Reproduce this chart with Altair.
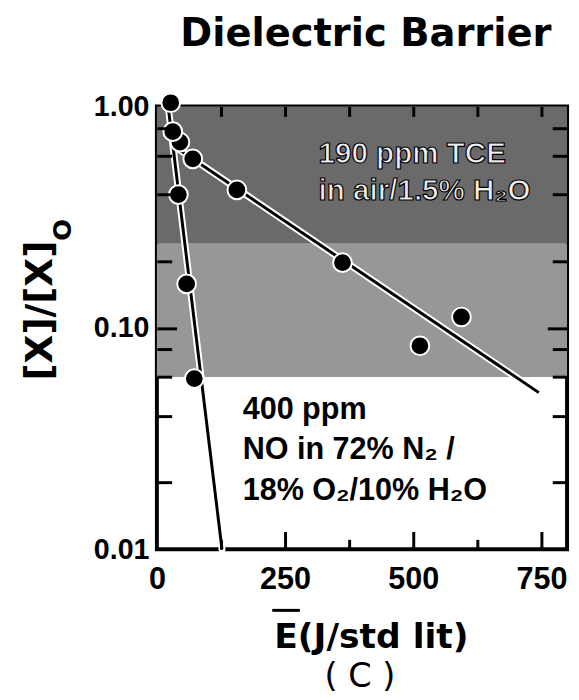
import altair as alt
import pandas as pd

# ---- data ----
tce_x = [27, 45, 70, 156, 362, 513, 594]
tce_y = [1.04, 0.69, 0.58, 0.42, 0.197, 0.083, 0.112]
no_x = [31, 42, 58, 73]
no_y = [0.77, 0.40, 0.158, 0.059]
tce_fit_x = [45, 745]
tce_fit_y = [0.635, 0.051]
no_fit_x = [22, 127]
no_fit_y = [1.0, 0.01]
band_top = [1.0, 0.24]
band_bottom = [0.24, 0.06]
band_name = ["dark", "light"]
band_colors = ["#6a6a6a", "#979797"]
x_labels = [0, 250, 500, 750]
y_labels = [0.01, 0.1, 1.0]
y_minor = [0.8, 0.6, 0.4, 0.2, 0.08, 0.06, 0.04, 0.02]
y_major_inner = [0.1]
x_major = [250, 500, 750]
x_minor = [125, 375, 625]
x_top = [125, 250, 375, 500, 625, 750]

W, H = 416, 449
XS = alt.Scale(domain=[0, 800], nice=False, zero=False)
YS = alt.Scale(type="log", domain=[0.01, 1], nice=False)
X_AXIS = alt.Axis(values=x_labels, format="d", ticks=False, domain=False, grid=False,
                  title=None, labelFont="Liberation Sans", labelFontWeight="bold",
                  labelFontSize=31, labelColor="black", labelPadding=16, labelFlush=False)
Y_AXIS = alt.Axis(values=y_labels, format=".2f", ticks=False, domain=False, grid=False,
                  title=None, labelFont="Liberation Sans", labelFontWeight="bold",
                  labelFontSize=29, labelColor="black", labelPadding=8, labelFlush=False)


def tick_axis(vals, size, orient):
    # an axis pulled inside the plot by its own tick length draws inward ticks
    return alt.Axis(values=vals, orient=orient, offset=-size, tickSize=size, tickWidth=3,
                    tickColor="black", tickOpacity=1, ticks=True, labels=False, domain=False,
                    grid=False, title=None, zindex=2)


one = pd.DataFrame({"a": [0]})
layers = []

bands = pd.DataFrame({"top": band_top, "bottom": band_bottom, "shade": band_name})
layers.append(alt.Chart(bands).mark_rect().encode(
    x=alt.value(0), x2=alt.value(W),
    y=alt.Y("top:Q", scale=YS, axis=Y_AXIS), y2="bottom:Q",
    fill=alt.Fill("shade:N", scale=alt.Scale(domain=band_name, range=band_colors), legend=None),
))

fits = pd.concat([
    pd.DataFrame({"x": tce_fit_x, "y": tce_fit_y, "s": "TCE"}),
    pd.DataFrame({"x": no_fit_x, "y": no_fit_y, "s": "NO"}),
])
layers.append(alt.Chart(fits).mark_line(color="white", strokeWidth=7, strokeCap="round").encode(
    x=alt.X("x:Q", scale=XS, axis=None), y=alt.Y("y:Q", scale=YS, axis=None), detail="s:N"))
layers.append(alt.Chart(fits).mark_line(color="black", strokeWidth=3).encode(
    x=alt.X("x:Q", scale=XS, axis=None), y=alt.Y("y:Q", scale=YS, axis=None), detail="s:N"))

pts = pd.concat([
    pd.DataFrame({"x": tce_x, "y": tce_y, "s": "TCE"}),
    pd.DataFrame({"x": no_x, "y": no_y, "s": "NO"}),
])
layers.append(alt.Chart(pts).mark_circle(size=360, color="black", opacity=1,
                                         stroke="white", strokeWidth=2).encode(
    x=alt.X("x:Q", scale=XS, axis=X_AXIS), y=alt.Y("y:Q", scale=YS, axis=None)))

# invisible carrier layers whose axes draw the inward ticks
def y_ticks(vals, size, orient):
    d = pd.DataFrame({"tv": vals})
    layers.append(alt.Chart(d).mark_point(opacity=0).encode(
        y=alt.Y("tv:Q", scale=YS, axis=tick_axis(vals, size, orient))))

def x_ticks(vals, size, orient):
    d = pd.DataFrame({"tv": vals})
    layers.append(alt.Chart(d).mark_point(opacity=0).encode(
        x=alt.X("tv:Q", scale=XS, axis=tick_axis(vals, size, orient))))

y_ticks(y_minor, 15, "left")
y_ticks(y_major_inner, 20, "left")
y_ticks(y_minor, 15, "right")
y_ticks(y_major_inner, 20, "right")
x_ticks(x_major, 18, "bottom")
x_ticks(x_minor, 10, "bottom")
x_ticks(x_top, 10, "top")


def txt(text, x, y, **kw):
    return alt.Chart(one).mark_text(text=text, **kw).encode(x=alt.value(x), y=alt.value(y))

layers.append(txt(["190 ppm TCE", "in air/1.5% H\u2082O"], 164, 57, align="left", baseline="alphabetic",
                  font="Liberation Sans", fontWeight="bold", fontSize=30, lineHeight=38,
                  fill="#eeeeee", stroke="black", strokeWidth=1.2))
layers.append(txt(["400 ppm", "NO in 72% N\u2082 /", "18% O\u2082/10% H\u2082O"], 87, 317, align="left",
                  baseline="alphabetic", font="Liberation Sans", fontWeight="bold", fontSize=31,
                  lineHeight=41, color="black"))
layers.append(txt("Dielectric Barrier", 212, -61, align="center", baseline="alphabetic",
                  font="DejaVu Sans", fontWeight="bold", fontSize=39, color="black"))
layers.append(txt("[X]/[X]", -106, 207, align="center", baseline="alphabetic", angle=270,
                  font="DejaVu Sans", fontWeight="bold", fontSize=38, color="black"))
layers.append(txt("O", -87, 125, align="center", baseline="alphabetic", angle=270,
                  font="DejaVu Sans", fontWeight="bold", fontSize=26, color="black"))
layers.append(txt("E(J/std lit)", 119, 549, align="left", baseline="alphabetic",
                  font="DejaVu Sans", fontWeight="bold", fontSize=35, color="black"))
layers.append(alt.Chart(one).mark_rule(color="black", strokeWidth=3).encode(
    x=alt.value(117), x2=alt.value(145), y=alt.value(511)))
layers.append(txt("( C )", 206, 589, align="center", baseline="alphabetic",
                  font="DejaVu Sans", fontWeight="normal", fontSize=34, color="black"))

chart = alt.layer(*layers).resolve_axis(x="independent", y="independent").properties(
    width=W, height=H,
    autosize=alt.AutoSizeParams(type="none"),
    padding={"left": 151, "top": 95, "right": 4, "bottom": 148},
).configure_view(stroke="black", strokeWidth=4)

chart.save("out.html", embed_options={"renderer": "svg", "actions": False})
